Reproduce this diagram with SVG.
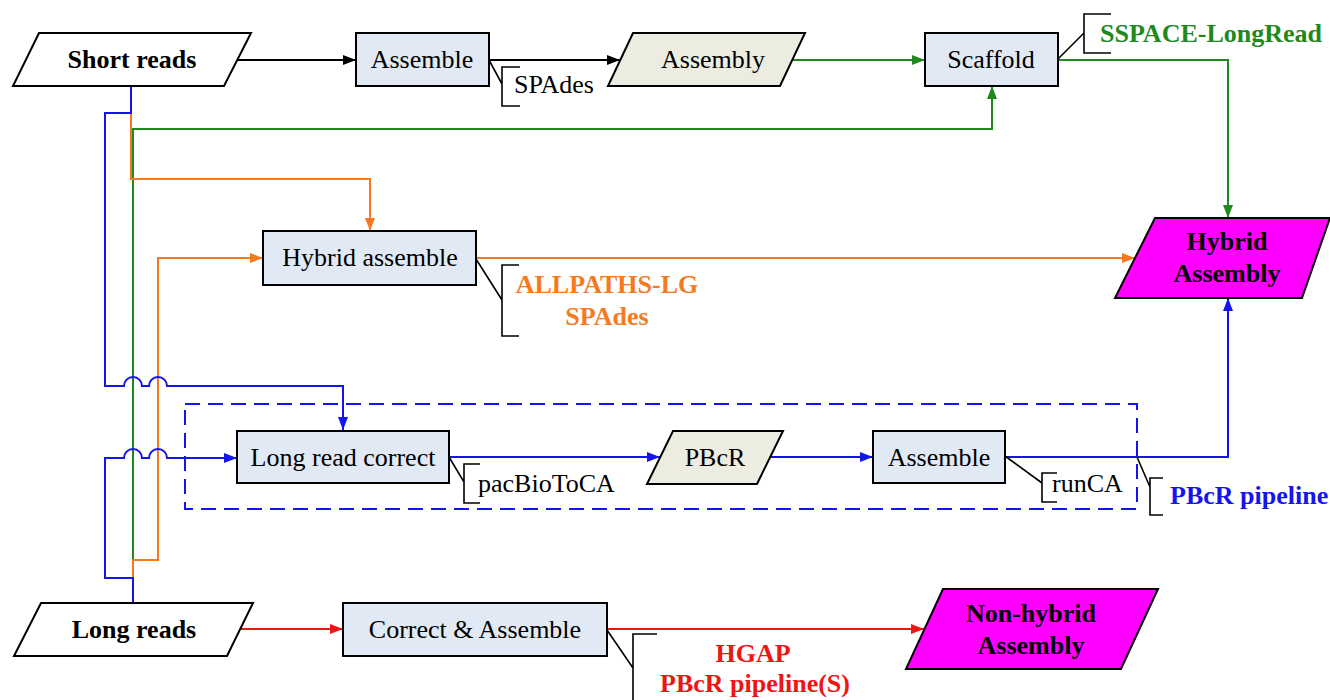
<svg xmlns="http://www.w3.org/2000/svg" width="1330" height="700" viewBox="0 0 1330 700">
<style>
text{font-family:"Liberation Serif","Times New Roman",serif;font-size:26px;fill:#000}
.b{font-weight:bold}
.box{fill:#E1E9F4;stroke:#000;stroke-width:2}
.io{fill:#fff;stroke:#000;stroke-width:2}
.data{fill:#ECECE1;stroke:#000;stroke-width:2}
.out{fill:#FF00FF;stroke:#000;stroke-width:2}
.ann{fill:none;stroke:#000;stroke-width:1.6}
.c{fill:none;stroke-width:2}
.k{stroke:#000}.g{stroke:#1E8A1E}.o{stroke:#F57A1F}.u{stroke:#1414F0}.r{stroke:#F01414}
.tg{fill:#1E8A1E}.to{fill:#F57A1F}.tu{fill:#1414F0}.tr{fill:#F01414}
.m{text-anchor:middle}
</style>
<defs>
<marker id="ak" markerUnits="userSpaceOnUse" markerWidth="13" markerHeight="10" refX="13" refY="5" orient="auto"><path d="M0,0L13,5L0,10z" fill="#000"/></marker>
<marker id="ag" markerUnits="userSpaceOnUse" markerWidth="13" markerHeight="10" refX="13" refY="5" orient="auto"><path d="M0,0L13,5L0,10z" fill="#1E8A1E"/></marker>
<marker id="ao" markerUnits="userSpaceOnUse" markerWidth="13" markerHeight="10" refX="13" refY="5" orient="auto"><path d="M0,0L13,5L0,10z" fill="#F57A1F"/></marker>
<marker id="au" markerUnits="userSpaceOnUse" markerWidth="13" markerHeight="10" refX="13" refY="5" orient="auto"><path d="M0,0L13,5L0,10z" fill="#1414F0"/></marker>
<marker id="ar" markerUnits="userSpaceOnUse" markerWidth="13" markerHeight="10" refX="13" refY="5" orient="auto"><path d="M0,0L13,5L0,10z" fill="#F01414"/></marker>
</defs>

<g id="pipeline-group">
<rect x="185" y="404" width="952" height="105" fill="none" stroke="#1414F0" stroke-width="2" stroke-dasharray="15,8"/>
</g>

<g id="connectors">
<path class="c k" d="M238,60H356" marker-end="url(#ak)"/>
<path class="c k" d="M489,60H620" marker-end="url(#ak)"/>
<path class="c g" d="M793,60H925" marker-end="url(#ag)"/>
<path class="c g" d="M1058,60H1228V218" marker-end="url(#ag)"/>
<path class="c g" d="M133,560V129H992V86" marker-end="url(#ag)"/>
<path class="c o" d="M131,113V179H370V231" marker-end="url(#ao)"/>
<path class="c o" d="M133,578V560H158V258H263" marker-end="url(#ao)"/>
<path class="c o" d="M476,258H1135" marker-end="url(#ao)"/>
<path class="c u" d="M131,86V113H105V386H124A9,9 0 0 1 142,386H149A9,9 0 0 1 167,386H343V430" marker-end="url(#au)"/>
<path class="c u" d="M133,602V578H105V458H124A9,9 0 0 1 142,458H149A9,9 0 0 1 167,458H237" marker-end="url(#au)"/>
<path class="c u" d="M449,457H660" marker-end="url(#au)"/>
<path class="c u" d="M770,457H873" marker-end="url(#au)"/>
<path class="c u" d="M1005,457H1228V298" marker-end="url(#au)"/>
<path class="c r" d="M240,629H343" marker-end="url(#ar)"/>
<path class="c r" d="M607,629H924" marker-end="url(#ar)"/>
</g>

<g id="short-reads">
<polygon class="io" points="39,33 251,33 224,86 13,86"/>
<text class="b m" x="132" y="68">Short reads</text>
</g>
<g id="assemble-top">
<rect class="box" x="356" y="33" width="133" height="53"/>
<text class="m" x="422" y="68">Assemble</text>
<path class="ann" d="M489,60L502,84M520,67H502V106H520"/>
<text x="514" y="93">SPAdes</text>
</g>
<g id="assembly">
<polygon class="data" points="633,33 805,33 780,86 608,86"/>
<text class="m" x="713" y="68">Assembly</text>
</g>
<g id="scaffold">
<rect class="box" x="925" y="33" width="133" height="53"/>
<text class="m" x="991" y="68">Scaffold</text>
<path class="ann" d="M1058,59L1084,33M1111,14H1084V53H1111"/>
<text class="b tg" x="1100" y="42">SSPACE-LongRead</text>
</g>
<g id="hybrid-assemble">
<rect class="box" x="263" y="231" width="213" height="54"/>
<text class="m" x="370" y="266">Hybrid assemble</text>
<path class="ann" d="M476,259L502,300M519,265H502V336H519"/>
<text class="b m to" x="607" y="293">ALLPATHS-LG</text>
<text class="b m to" x="607" y="325">SPAdes</text>
</g>
<g id="hybrid-assembly">
<polygon class="out" points="1155,218 1330,218 1302,298 1115,298"/>
<text class="b m" x="1227" y="250">Hybrid</text>
<text class="b m" x="1227" y="282">Assembly</text>
</g>
<g id="long-read-correct">
<rect class="box" x="237" y="431" width="212" height="52"/>
<text class="m" x="343" y="466">Long read correct</text>
<path class="ann" d="M449,457L464,482M480,464H464V503H480"/>
<text x="478" y="492">pacBioToCA</text>
</g>
<g id="pbcr">
<polygon class="data" points="673,431 783,431 757,484 647,484"/>
<text class="m" x="715" y="466">PBcR</text>
</g>
<g id="assemble-pbcr">
<rect class="box" x="873" y="431" width="132" height="52"/>
<text class="m" x="939" y="466">Assemble</text>
<path class="ann" d="M1005,456L1042,483M1057,473H1042V502H1057"/>
<text x="1052" y="492">runCA</text>
</g>
<g id="pbcr-pipeline-label">
<path class="ann" d="M1137,457L1150,487M1163,478H1150V515H1163"/>
<text class="b tu" x="1170" y="504">PBcR pipeline</text>
</g>
<g id="long-reads">
<polygon class="io" points="41,603 253,603 227,656 14,656"/>
<text class="b m" x="134" y="638">Long reads</text>
</g>
<g id="correct-assemble">
<rect class="box" x="343" y="603" width="264" height="53"/>
<text class="m" x="475" y="638">Correct &amp; Assemble</text>
<path class="ann" d="M607,630L633,668M657,634H633V700"/>
<text class="b m tr" x="753" y="662">HGAP</text>
<text class="b m tr" x="755" y="692">PBcR pipeline(S)</text>
</g>
<g id="non-hybrid-assembly">
<polygon class="out" points="943,589 1158,589 1121,669 906,669"/>
<text class="b m" x="1031" y="622">Non-hybrid</text>
<text class="b m" x="1031" y="654">Assembly</text>
</g>
</svg>
